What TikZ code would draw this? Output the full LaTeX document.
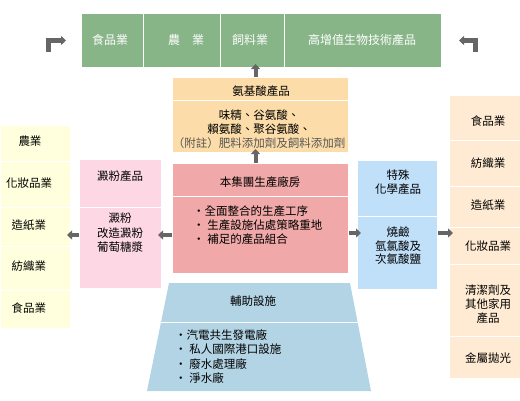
\documentclass[tikz,border=0pt]{standalone}
\usepackage{fontspec}
\setmainfont{Noto Sans CJK TC}
\usetikzlibrary{arrows.meta}
\definecolor{cgreen}{HTML}{87B587}
\definecolor{camino}{HTML}{FCDCA8}
\definecolor{cred}{HTML}{F0A8A8}
\definecolor{cpink}{HTML}{FDD8E4}
\definecolor{cyel}{HTML}{FFFFDD}
\definecolor{cblue}{HTML}{C0E0FA}
\definecolor{cpeach}{HTML}{FFEBD3}
\definecolor{ctrap}{HTML}{B3D4E4}
\definecolor{carrow}{HTML}{666666}
\definecolor{cnote}{HTML}{555555}
\begin{document}
\begin{tikzpicture}[x=1pt,y=-1pt,
  cell/.style={draw=white, line width=1pt, inner sep=0pt, anchor=north west},
  txt/.style={font=\fontsize{11.5}{14}\selectfont, align=center, inner sep=0pt, anchor=base},
  btxt/.style={font=\fontsize{11.5}{14}\selectfont, align=left, inner sep=0pt, anchor=base west},
  ttxt/.style={font=\fontsize{12}{14}\selectfont, inner sep=0pt, anchor=base, text=white},
  arr/.style={draw=carrow, line width=4pt, shorten >=-4pt, -{Triangle[length=5pt,width=9pt]}},
  carr/.style={draw=carrow, line width=5pt, line join=miter, -{Triangle[length=5pt,width=9pt]}}]
\useasboundingbox (0,0) rectangle (520,400);

% top green bar
\node[cell, fill=cgreen, minimum width=62pt, minimum height=54pt] (g1) at (81,13) {};
\node[cell, fill=cgreen, minimum width=77pt, minimum height=54pt] (g2) at (143,13) {};
\node[cell, fill=cgreen, minimum width=64pt, minimum height=54pt] (g3) at (220,13) {};
\node[cell, fill=cgreen, minimum width=157pt, minimum height=54pt] (g4) at (284,13) {};
\node[ttxt] (g1t) at (110,44.5) {食品業};
\node[ttxt] (g2t) at (186,44.5) {農　業};
\node[ttxt] (g3t) at (250,44.5) {飼料業};
\node[ttxt] (g4t) at (362,44.5) {高增值生物技術產品};

% corner arrows
\coordinate (la0) at (48.5,52);
\coordinate (la1) at (66,40.5);
\coordinate (ra0) at (475.5,52);
\coordinate (ra1) at (459,40.5);
\draw[carr] (la0) |- (la1);
\draw[carr] (ra0) |- (ra1);

% amino acid box
\node[cell, fill=camino, minimum width=176pt, minimum height=23pt] (am1) at (172,77) {};
\node[cell, fill=camino, minimum width=176pt, minimum height=52pt] (am2) at (172,100) {};
\node[txt] (am1t) at (261,95.5) {氨基酸產品};
\node[txt] (am2t) at (259,147.5) {味精、谷氨酸、\\賴氨酸、聚谷氨酸、\\\textcolor{cnote}{（附註）肥料添加劑及飼料添加劑}};

% main plant box
\node[cell, fill=cred, minimum width=176pt, minimum height=33pt] (rd1) at (172,163) {};
\node[cell, fill=cred, minimum width=176pt, minimum height=77pt] (rd2) at (172,196) {};
\node[txt] (rd1t) at (260,186.5) {本集團生產廠房};
\node[btxt] (rd2t) at (193,243.5) {・全面整合的生產工序\\・ 生產設施佔處策略重地\\・ 補足的產品組合};

% starch box
\node[cell, fill=cpink, minimum width=82pt, minimum height=48pt] (pk1) at (79,159) {};
\node[cell, fill=cpink, minimum width=82pt, minimum height=81pt] (pk2) at (79,207) {};
\node[txt] (pk1t) at (120,180.5) {澱粉產品};
\node[txt, font=\fontsize{11.5}{14.5}\selectfont] (pk2t) at (120,251.5) {澱粉\\改造澱粉\\葡萄糖漿};

% special chemical box
\node[cell, fill=cblue, minimum width=80pt, minimum height=56pt] (bl1) at (357,160) {};
\node[cell, fill=cblue, minimum width=80pt, minimum height=73pt] (bl2) at (357,216) {};
\node[txt] (bl1t) at (398,193.5) {特殊\\化學產品};
\node[txt, font=\fontsize{11.5}{13.5}\selectfont] (bl2t) at (398,263.5) {燒鹼\\氫氯酸及\\次氯酸鹽};

% left column
\node[cell, fill=cyel, minimum width=70pt, minimum height=36pt] (ly1) at (0,125) {};
\node[cell, fill=cyel, minimum width=70pt, minimum height=46pt] (ly2) at (0,161) {};
\node[cell, fill=cyel, minimum width=70pt, minimum height=39pt] (ly3) at (0,207) {};
\node[cell, fill=cyel, minimum width=70pt, minimum height=44pt] (ly4) at (0,246) {};
\node[cell, fill=cyel, minimum width=70pt, minimum height=38pt] (ly5) at (0,290) {};
\node[txt] (ly1t) at (30,145.5) {農業};
\node[txt] (ly2t) at (29,187.5) {化妝品業};
\node[txt] (ly3t) at (29,229.5) {造紙業};
\node[txt] (ly4t) at (29,270.5) {紡織業};
\node[txt] (ly5t) at (29,312.5) {食品業};

% right column
\node[cell, fill=cpeach, minimum width=72pt, minimum height=45pt] (rp1) at (449,95) {};
\node[cell, fill=cpeach, minimum width=72pt, minimum height=46pt] (rp2) at (449,140) {};
\node[cell, fill=cpeach, minimum width=72pt, minimum height=41pt] (rp3) at (449,186) {};
\node[cell, fill=cpeach, minimum width=72pt, minimum height=37pt] (rp4) at (449,227) {};
\node[cell, fill=cpeach, minimum width=72pt, minimum height=72pt] (rp5) at (449,264) {};
\node[cell, fill=cpeach, minimum width=72pt, minimum height=42pt] (rp6) at (449,336) {};
\node[txt] (rp1t) at (488,125.5) {食品業};
\node[txt] (rp2t) at (488,167.5) {紡織業};
\node[txt] (rp3t) at (488,209.5) {造紙業};
\node[txt] (rp4t) at (488,250.5) {化妝品業};
\node[txt] (rp5t) at (488,322.5) {清潔劑及\\其他家用\\產品};
\node[txt] (rp6t) at (488,362.5) {金屬拋光};

% support facilities trapezoid
\coordinate (t1) at (169,283);
\coordinate (t2) at (350,283);
\coordinate (t3) at (371,391);
\coordinate (t4) at (147,391);
\coordinate (td1) at (161.1,322);
\coordinate (td2) at (357.6,322);
\fill[ctrap] (t1) -- (t2) -- (t3) -- (t4) -- cycle;
\draw[white, line width=1pt] (td1) -- (td2);
\node[txt] (tpt) at (253,305.5) {輔助設施};
\node[btxt, font=\fontsize{11.5}{14.3}\selectfont] (tpb) at (175,382.5) {・汽電共生發電廠\\・ 私人國際港口設施\\・ 廢水處理廠\\・ 淨水廠};

% arrows
\draw[arr] ([xshift=-5pt]am1.north) -- ([xshift=-5pt]am1.north |- g3.south);
\draw[arr] ([xshift=-5pt]rd1.north) -- ([xshift=-5pt]rd1.north |- am2.south);
\draw[arr] (rd1.west |- rd2.west) -- (rd2.west -| pk2.east);
\draw[arr] (pk2.west |- rd2.west) -- (rd2.west -| ly3.east);
\draw[arr] ([yshift=2pt]rd2.east) -- ([yshift=2pt]rd2.east -| bl2.west);
\draw[arr] ([yshift=2pt]bl2.east |- rd2.east) -- ([yshift=2pt]rd2.east -| rp4.west);
\end{tikzpicture}
\end{document}
